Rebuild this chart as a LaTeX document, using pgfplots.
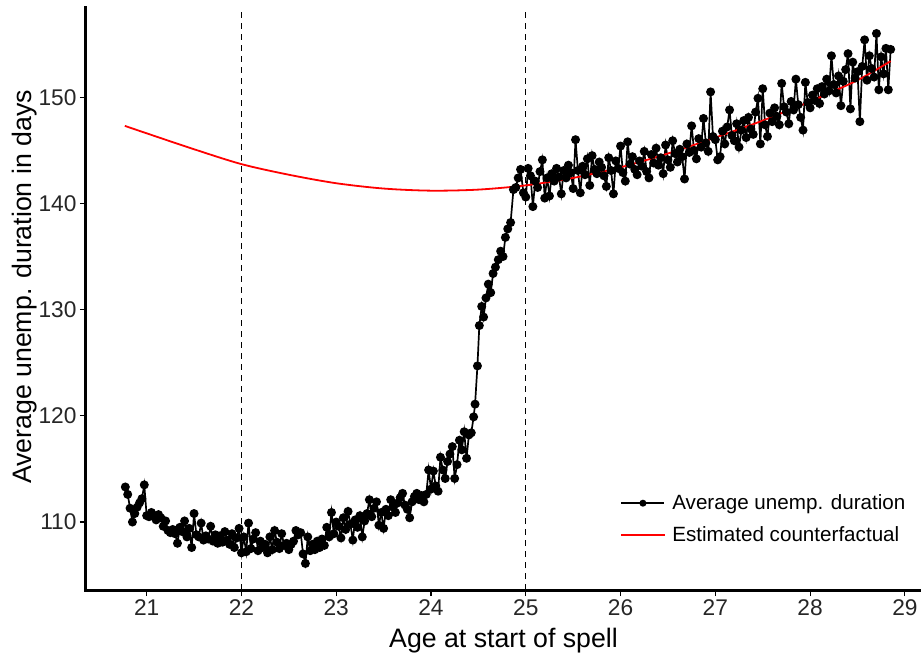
\documentclass[border=0pt]{standalone}
\usepackage{fontspec}
\setmainfont{Liberation Sans}
\usepackage{pgfplots}
\pgfplotsset{compat=1.18}
\begin{document}
\begin{tikzpicture}
\begin{axis}[
  scale only axis, width=835bp, height=582bp,
  xmin=20.36, xmax=29.17, ymin=103.6, ymax=158.4,
  axis x line*=bottom, axis y line*=left,
  axis line style={-, line width=3bp, line cap=rect},
  xtick={21,22,...,29}, ytick={110,120,...,150},
  tick align=outside, major tick length=6bp,
  tick style={line width=1.1bp, black},
  /pgf/number format/assume math mode=true,
  /pgf/number format/1000 sep={},
  ticklabel style={font=\fontsize{22.8}{26}\selectfont, text=black!85},
  xlabel={Age at start of spell}, ylabel={Average unemp. duration in days},
  label style={font=\fontsize{26.8}{30}\selectfont},
  xlabel style={at={(rel axis cs:0.5,0)}, anchor=base, yshift=-57bp},
  ylabel style={at={(rel axis cs:-0.0585,0.5206)}, anchor=south, inner sep=0pt},
  legend style={at={(rel axis cs:0.984,0.167)}, anchor=north east, draw=none, fill=none,
    font=\fontsize{20.7}{24}\selectfont, row sep=11bp, inner sep=0pt,
    /tikz/every odd column/.append style={column sep=5bp}},
  legend cell align=left,
  legend image code/.code={\draw[mark repeat=2, mark phase=2, mark size=2.6bp, #1] plot coordinates {(0bp,0bp) (21.5bp,0bp) (43bp,0bp)};},
]
\coordinate (bl) at (rel axis cs:0,0);
\coordinate (tr) at (rel axis cs:1,1);
\addplot[black, line width=1.2bp, dash pattern=on 6bp off 5bp, forget plot] coordinates {(22,103.6) (22,158.4)};
\addplot[black, line width=1.2bp, dash pattern=on 6bp off 5bp, forget plot] coordinates {(25,103.6) (25,158.4)};
\addplot[black, line width=1.7bp, mark=*, mark size=3.6bp, mark options={fill=black}] coordinates {
(20.775,113.3) (20.8,112.6) (20.825,111.3) (20.85,110.0) (20.875,110.8) (20.9,111.4) (20.925,111.8) (20.95,112.2) (20.975,113.5) (21.0,110.6)
(21.025,110.5) (21.05,110.9) (21.075,110.6) (21.1,110.2) (21.125,110.7) (21.15,110.4) (21.175,109.6) (21.2,110.1) (21.225,109.2) (21.25,109.0)
(21.275,109.3) (21.3,108.9) (21.325,108.0) (21.35,109.5) (21.375,109.1) (21.4,110.1) (21.425,108.6) (21.45,109.4) (21.475,107.6) (21.5,110.8)
(21.525,108.8) (21.55,108.6) (21.575,109.9) (21.6,108.3) (21.625,108.7) (21.65,108.4) (21.675,109.6) (21.7,108.2) (21.725,108.8) (21.75,108.0)
(21.775,108.7) (21.8,108.1) (21.825,109.1) (21.85,108.3) (21.875,107.9) (21.9,108.9) (21.925,107.6) (21.95,108.5) (21.975,109.4) (22.0,107.1)
(22.025,108.6) (22.05,107.2) (22.075,109.9) (22.1,107.5) (22.125,108.4) (22.15,109.0) (22.175,107.3) (22.2,108.2) (22.225,107.6) (22.25,107.9)
(22.275,107.1) (22.3,108.6) (22.325,107.4) (22.35,109.2) (22.375,108.1) (22.4,107.5) (22.425,108.9) (22.45,107.8) (22.475,108.0) (22.5,107.4)
(22.525,107.9) (22.55,108.2) (22.575,109.2) (22.6,108.8) (22.625,109.0) (22.65,107.0) (22.675,106.1) (22.7,108.6) (22.725,107.3) (22.75,107.9)
(22.775,107.4) (22.8,108.2) (22.825,107.6) (22.85,108.4) (22.875,107.8) (22.9,109.5) (22.925,108.6) (22.95,110.9) (22.975,108.9) (23.0,110.0)
(23.025,109.6) (23.05,108.5) (23.075,110.4) (23.1,109.3) (23.125,111.0) (23.15,109.8) (23.175,108.3) (23.2,110.2) (23.225,109.5) (23.25,110.6)
(23.275,108.6) (23.3,110.1) (23.325,110.8) (23.35,112.1) (23.375,110.5) (23.4,111.3) (23.425,111.9) (23.45,109.7) (23.475,110.9) (23.5,109.4)
(23.525,111.2) (23.55,110.6) (23.575,112.1) (23.6,111.4) (23.625,110.9) (23.65,111.8) (23.675,112.3) (23.7,112.7) (23.725,111.6) (23.75,111.2)
(23.775,110.4) (23.8,111.9) (23.825,112.4) (23.85,112.7) (23.875,112.1) (23.9,112.5) (23.925,111.9) (23.95,112.6) (23.975,114.9) (24.0,113.1)
(24.025,114.8) (24.05,113.4) (24.075,112.9) (24.1,116.1) (24.125,114.9) (24.15,114.1) (24.175,115.7) (24.2,116.4) (24.225,117.1) (24.25,114.1)
(24.275,115.4) (24.3,117.7) (24.325,116.8) (24.35,118.5) (24.375,116.0) (24.4,118.2) (24.425,118.4) (24.45,119.9) (24.465,121.1) (24.49,124.7)
(24.51,128.5) (24.535,130.3) (24.555,129.3) (24.58,131.1) (24.605,132.4) (24.63,131.6) (24.655,133.4) (24.68,134.0) (24.71,134.7) (24.735,135.5)
(24.76,135.0) (24.785,136.8) (24.81,137.6) (24.84,138.2) (24.87,141.3) (24.895,141.5) (24.92,142.4) (24.945,143.2) (24.975,141.0)
(25.0,140.6) (25.025,143.3) (25.05,142.6) (25.075,139.7) (25.1,142.1) (25.125,141.5) (25.15,143.0) (25.175,144.1) (25.2,140.5) (25.225,142.4)
(25.25,140.7) (25.275,142.8) (25.3,142.1) (25.325,143.3) (25.35,142.5) (25.375,140.9) (25.4,143.1) (25.425,142.4) (25.45,143.6) (25.475,142.9)
(25.5,141.4) (25.525,146.0) (25.55,143.1) (25.575,141.0) (25.6,143.5) (25.625,142.7) (25.65,144.2) (25.675,141.7) (25.7,144.5) (25.725,143.2)
(25.75,142.8) (25.775,143.9) (25.8,143.4) (25.825,142.6) (25.85,141.6) (25.875,144.3) (25.9,143.1) (25.925,140.9) (25.95,144.0) (25.975,143.3)
(26.0,145.4) (26.025,142.9) (26.05,142.1) (26.075,145.8) (26.1,143.7) (26.125,144.4) (26.15,143.2) (26.175,142.7) (26.2,144.0) (26.225,143.5)
(26.25,144.9) (26.275,143.0) (26.3,142.4) (26.325,144.6) (26.35,143.8) (26.375,145.2) (26.4,143.6) (26.425,144.3) (26.45,142.8) (26.475,145.5)
(26.5,144.1) (26.525,143.4) (26.55,145.9) (26.575,144.7) (26.6,143.9) (26.625,145.1) (26.65,144.4) (26.675,142.3) (26.7,145.6) (26.725,144.8)
(26.75,147.3) (26.775,145.0) (26.8,144.2) (26.825,146.1) (26.85,145.3) (26.875,148.0) (26.9,145.7) (26.925,144.9) (26.95,150.5) (26.975,146.3)
(27.0,146.0) (27.025,144.1) (27.05,144.4) (27.075,146.8) (27.1,145.6) (27.125,147.2) (27.15,148.8) (27.175,146.4) (27.2,145.9) (27.225,147.5)
(27.25,145.3) (27.275,146.9) (27.3,147.8) (27.325,146.2) (27.35,148.1) (27.375,147.0) (27.4,146.5) (27.425,148.6) (27.45,149.9) (27.475,145.6)
(27.5,150.8) (27.525,147.4) (27.55,146.3) (27.575,148.5) (27.6,147.7) (27.625,149.0) (27.65,148.2) (27.675,147.4) (27.7,151.3) (27.725,149.1)
(27.75,148.6) (27.775,147.5) (27.8,149.6) (27.825,148.8) (27.85,151.7) (27.875,149.3) (27.9,148.1) (27.925,146.9) (27.95,151.4) (27.975,149.5)
(28.0,149.0) (28.025,150.2) (28.05,149.7) (28.075,150.8) (28.1,149.4) (28.125,151.0) (28.15,150.3) (28.175,151.7) (28.2,150.6) (28.225,153.9)
(28.25,151.2) (28.275,150.4) (28.3,152.0) (28.325,149.2) (28.35,151.5) (28.375,152.6) (28.4,154.1) (28.425,148.9) (28.45,153.3) (28.475,151.8)
(28.5,152.4) (28.525,147.7) (28.55,152.9) (28.575,155.4) (28.6,151.6) (28.625,153.9) (28.65,152.7) (28.675,151.9) (28.7,156.0) (28.725,150.7)
(28.75,153.8) (28.775,152.2) (28.8,154.6) (28.825,150.7) (28.85,154.5)
};
\addlegendentry{Average unemp. duration}
\addplot[red, line width=1.8bp, smooth] coordinates {
(20.77,147.3) (21.0,146.6) (21.5,145.1) (22.0,143.7) (22.5,142.7) (23.0,141.9) (23.5,141.4) (24.0,141.2)
(24.5,141.3) (25.0,141.7) (25.5,142.4) (26.0,143.4) (26.5,144.7) (27.0,146.2) (27.5,147.8) (28.0,149.6) (28.5,151.6) (28.85,153.4)
};
\addlegendentry{Estimated counterfactual}
\end{axis}
\pgfresetboundingbox
\path ([shift={(-86bp,-74bp)}]bl) rectangle ([shift={(0bp,8bp)}]tr);
\end{tikzpicture}
\end{document}
